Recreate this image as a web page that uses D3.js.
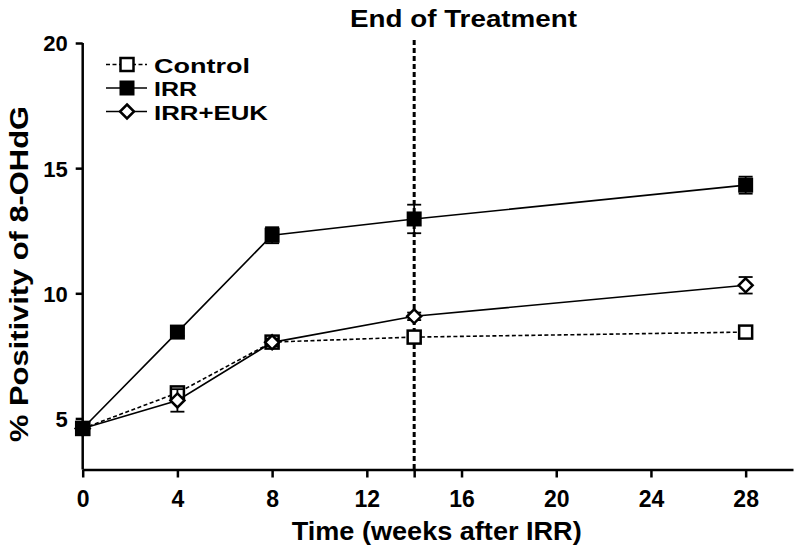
<!DOCTYPE html>
<html>
<head>
<meta charset="utf-8">
<script src="https://cdn.jsdelivr.net/npm/d3@7"></script>
<style>
  html, body { margin: 0; padding: 0; background: #fff; }
  svg { display: block; }
  text { font-family: "Liberation Sans", Arial, Helvetica, sans-serif; font-weight: bold; fill: #000; }
</style>
</head>
<body>
<svg id="chart" width="800" height="553"></svg>
<script>
// ---- data ----
const weeks = [0, 4, 8, 14, 28];
const controlMean = [4.6, 6.02, 8.05, 8.25, 8.45];
const controlErr  = [0.1, 0.2, 0.15, 0.2, 0.1];
const irrMean     = [4.6, 8.45, 12.32, 12.97, 14.32];
const irrErr      = [0.1, 0.15, 0.32, 0.57, 0.34];
const eukMean     = [4.6, 5.72, 8.04, 9.08, 10.32];
const eukErr      = [0.1, 0.45, 0.15, 0.15, 0.33];
const seriesNames = ["Control", "IRR", "IRR+EUK"];
const xTicks = [0, 4, 8, 12, 14, 16, 20, 24, 28];
const xTickLabels = ["0", "4", "8", "12", "", "16", "20", "24", "28"];
const yTicks = [5, 10, 15, 20];
const treatmentEnd = 14;
const titleText = "End of Treatment";
const xTitle = "Time (weeks after IRR)";
const yTitle = "% Positivity of 8-OHdG";

// ---- layout ----
const svg = d3.select("#chart");
const x = d3.scaleLinear().domain([0, 30]).range([82.7, 793]);
const y = d3.scaleLinear().domain([3, 20]).range([468.5, 43]);
const axisY = 469.5;

// x axis
const xAxis = svg.append("g").attr("transform", `translate(0,${axisY})`)
  .call(d3.axisBottom(x).tickValues(xTicks).tickSize(8).tickSizeOuter(0)
    .tickFormat((d, i) => xTickLabels[i]));
xAxis.select(".domain").attr("stroke", "#000").attr("stroke-width", 2.5);
xAxis.selectAll(".tick line").attr("stroke", "#000").attr("stroke-width", 2.5);
xAxis.selectAll(".tick text").attr("y", 37).attr("dy", 0)
  .style("font-size", "23px").style("font-family", '"Liberation Sans", Arial, sans-serif').style("font-weight", "bold");

// y axis
const yAxis = svg.append("g").attr("transform", `translate(${x(0)},0)`)
  .call(d3.axisLeft(y).tickValues(yTicks).tickSize(7).tickPadding(8).tickSizeOuter(0));
yAxis.select(".domain").attr("stroke", "#000").attr("stroke-width", 2.5)
  .attr("d", `M0,${y(20)}V${axisY}`);
yAxis.selectAll(".tick line").attr("stroke", "#000").attr("stroke-width", 2.5);
yAxis.selectAll(".tick text").attr("dy", "0.36em")
  .style("font-size", "22px").style("font-family", '"Liberation Sans", Arial, sans-serif').style("font-weight", "bold");

// end of treatment line
svg.append("line")
  .attr("x1", x(treatmentEnd)).attr("x2", x(treatmentEnd))
  .attr("y1", 40).attr("y2", axisY)
  .attr("stroke", "#000").attr("stroke-width", 3).attr("stroke-dasharray", "5,3");

svg.append("text").attr("x", 350).attr("y", 27)
  .attr("textLength", 227).attr("lengthAdjust", "spacingAndGlyphs")
  .style("font-size", "24px").text(titleText);

// axis titles
svg.append("text").attr("x", 436.7).attr("y", 540).attr("text-anchor", "middle")
  .attr("textLength", 290).attr("lengthAdjust", "spacingAndGlyphs")
  .style("font-size", "25px").text(xTitle);
svg.append("text").attr("transform", "translate(28,274) rotate(-90)").attr("text-anchor", "middle")
  .attr("textLength", 336).attr("lengthAdjust", "spacingAndGlyphs")
  .style("font-size", "26px").text(yTitle);

// series
const series = [
  { name: seriesNames[0], mean: controlMean, err: controlErr, dash: "4,2.5", marker: "openSquare" },
  { name: seriesNames[2], mean: eukMean, err: eukErr, dash: null, marker: "diamond" },
  { name: seriesNames[1], mean: irrMean, err: irrErr, dash: null, marker: "filledSquare" }
];

function drawMarker(g, type, cx, cy) {
  if (type === "openSquare") {
    g.append("rect").attr("x", cx - 6.5).attr("y", cy - 6.5).attr("width", 13).attr("height", 13)
      .attr("fill", "#fff").attr("stroke", "#000").attr("stroke-width", 2.5);
  } else if (type === "filledSquare") {
    g.append("rect").attr("x", cx - 7.5).attr("y", cy - 7.5).attr("width", 15).attr("height", 15)
      .attr("fill", "#000");
  } else {
    const r = 7;
    g.append("path").attr("d", `M${cx},${cy - r}L${cx + r},${cy}L${cx},${cy + r}L${cx - r},${cy}Z`)
      .attr("fill", "#fff").attr("stroke", "#000").attr("stroke-width", 2.5);
  }
}

const line = d3.line().x(d => x(d[0])).y(d => y(d[1]));
series.forEach(s => {
  const g = svg.append("g");
  const pts = weeks.map((w, i) => [w, s.mean[i]]);
  g.append("path").attr("d", line(pts)).attr("fill", "none").attr("stroke", "#000")
    .attr("stroke-width", 1.6).attr("stroke-dasharray", s.dash);
  weeks.forEach((w, i) => {
    const cx = x(w), top = y(s.mean[i] + s.err[i]), bot = y(s.mean[i] - s.err[i]);
    g.append("line").attr("x1", cx).attr("x2", cx).attr("y1", top).attr("y2", bot)
      .attr("stroke", "#000").attr("stroke-width", 1.8);
    [top, bot].forEach(yy => g.append("line").attr("x1", cx - 7).attr("x2", cx + 7)
      .attr("y1", yy).attr("y2", yy).attr("stroke", "#000").attr("stroke-width", 1.8));
  });
  weeks.forEach((w, i) => drawMarker(g, s.marker, x(w), y(s.mean[i])));
});

// legend
const legendItems = [
  { name: seriesNames[0], dash: "4,2.5", marker: "openSquare", base: 72.5, len: 96 },
  { name: seriesNames[1], dash: null, marker: "filledSquare", base: 96, len: 43 },
  { name: seriesNames[2], dash: null, marker: "diamond", base: 119.5, len: 114 }
];
legendItems.forEach(it => {
  const g = svg.append("g");
  const cy = it.base - 8;
  g.append("line").attr("x1", 106).attr("x2", 147).attr("y1", cy).attr("y2", cy)
    .attr("stroke", "#000").attr("stroke-width", 1.6).attr("stroke-dasharray", it.dash);
  drawMarker(g, it.marker, 127, cy);
  g.append("text").attr("x", 154).attr("y", it.base)
    .attr("textLength", it.len).attr("lengthAdjust", "spacingAndGlyphs")
    .style("font-size", "21px").text(it.name);
});
</script>
</body>
</html>
